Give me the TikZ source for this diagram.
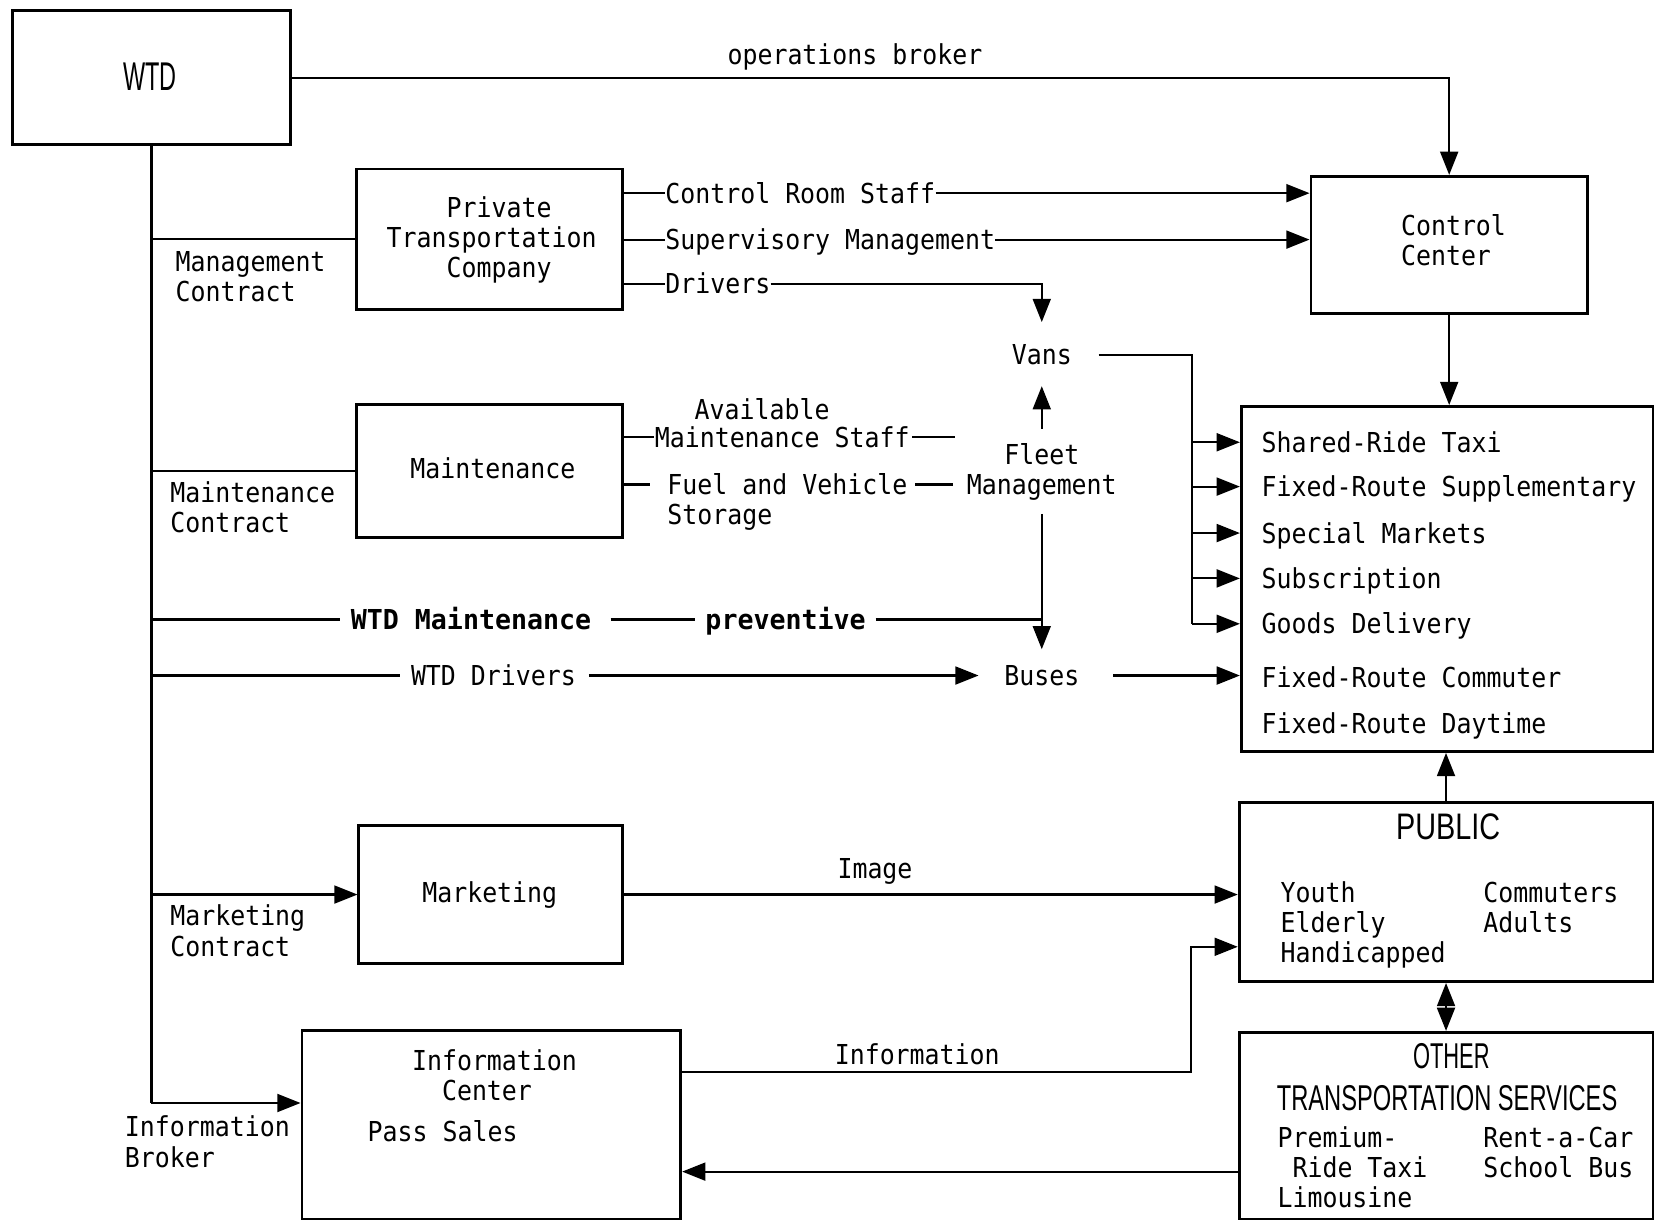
\documentclass[tikz,border=0pt]{standalone}
\usepackage{fontspec}
\usepackage{graphicx}
\usetikzlibrary{arrows.meta,calc,fit}
\newfontfamily\mono[FakeStretch=0.907]{DejaVu Sans Mono}
\newfontfamily\monob[FakeStretch=0.97]{DejaVu Sans Mono}
\newfontfamily\ttl{Liberation Sans}
\tikzset{
  box/.style={draw, line width=1.3pt, inner sep=0pt},
  lbl/.style={inner sep=0pt, font=\mono\fontsize{13}{14.3}\selectfont, text height=9.5pt, text depth=0pt},
  blbl/.style={inner sep=0pt, font=\monob\bfseries\fontsize{13}{14.3}\selectfont, text height=9.5pt, text depth=0pt},
  mlbl/.style={inner sep=0pt, font=\mono\fontsize{13}{14.3}\selectfont, align=left},
  ttlA/.style={inner sep=0pt, font=\ttl\fontsize{19}{22}\selectfont},
  ttlB/.style={inner sep=0pt, font=\ttl\fontsize{17.5}{20}\selectfont},
  ttlC/.style={inner sep=0pt, font=\ttl\fontsize{17}{20}\selectfont},
  ln/.style={line width=1pt},
  thk/.style={line width=1.7pt},
  arr/.style={line width=1pt, -{Triangle[length=11pt,width=8.5pt]}},
  darr/.style={line width=1pt, {Triangle[length=11pt,width=8.5pt]}-{Triangle[length=11pt,width=8.5pt]}},
}
\begin{document}
\begin{tikzpicture}[x=0.5pt,y=-0.5pt]
\useasboundingbox (0,0) rectangle (1568,1158);

% boxes
\node[box, fit={(12,10) (275,137)}] (wtd) {};
\node[box, fit={(1242,167) (1504,297)}] (ctrl) {};
\node[box, fit={(338,160) (590,293)}] (ptc) {};
\node[box, fit={(338,383) (590,509)}] (maint) {};
\node[box, fit={(1176,385) (1566,712)}] (serv) {};
\node[box, fit={(340,782) (590,913)}] (mkt) {};
\node[box, fit={(286,976) (645,1155)}] (info) {};
\node[box, fit={(1174,760) (1566,930)}] (pub) {};
\node[box, fit={(1174,978) (1566,1155)}] (oth) {};

% texts
\node[ttlA] (wtdt) at (142,73) {\scalebox{0.585}[1]{WTD}};
\node[lbl] (ob) at (810,52) {operations broker};
\node[mlbl, anchor=north west] (ctrlt) at (1327,203) {Control\\Center};
\node[mlbl, anchor=north west] (ptct) at (366,186) {\phantom{0000}Private\\Transportation\\\phantom{0000}Company};
\node[mlbl, anchor=north west] (mc) at (166,238) {Management\\Contract};
\node[lbl, anchor=west] (crs) at (630,183) {Control Room Staff};
\node[lbl, anchor=west] (sm) at (630,227) {Supervisory Management};
\node[lbl, anchor=west] (drv) at (630,269) {Drivers};
\node[lbl] (vans) at (987,336) {Vans};
\node[lbl] (maintt) at (467,444) {Maintenance};
\node[mlbl, anchor=north west] (mtc) at (161,456) {Maintenance\\Contract};
\node[lbl] (avail) at (722,388) {Available};
\node[lbl, anchor=west] (mstaff) at (620,414) {Maintenance Staff};
\node[lbl, anchor=west] (fuel) at (632,459) {Fuel and Vehicle};
\node[lbl, anchor=west] (stor) at (632,487) {Storage};
\coordinate (mse) at (905,414);
\coordinate (fve) at (903,459);
\node[mlbl, align=center, anchor=north] (fleet) at (987,420) {Fleet\\Management};
\node[blbl, anchor=west] (wtdm) at (332,587) {WTD Maintenance};
\node[blbl, anchor=west] (prev) at (668,587) {preventive};
\node[lbl, anchor=west] (wtdd) at (389,640) {WTD Drivers};
\node[lbl] (buses) at (987,640) {Buses};

\node[lbl, anchor=west] (s1) at (1195,419) {Shared-Ride Taxi};
\node[lbl, anchor=west] (s2) at (1195,461) {Fixed-Route Supplementary};
\node[lbl, anchor=west] (s3) at (1195,505) {Special Markets};
\node[lbl, anchor=west] (s4) at (1195,548) {Subscription};
\node[lbl, anchor=west] (s5) at (1195,591) {Goods Delivery};
\node[lbl, anchor=west] (s6) at (1195,642) {Fixed-Route Commuter};
\node[lbl, anchor=west] (s7) at (1195,685) {Fixed-Route Daytime};

\node[lbl] (mktt) at (464,846) {Marketing};
\node[mlbl, anchor=north west] (mkc) at (161,857) {Marketing\\Contract};
\node[lbl] (img) at (829,823) {Image};
\node[mlbl, anchor=north west] (infot) at (390,994) {Information\\\phantom{00}Center};
\node[lbl, anchor=west] (pass) at (348,1072) {Pass Sales};
\node[mlbl, anchor=north west] (ibk) at (118,1057) {Information\\Broker};
\node[lbl] (infl) at (869,999) {Information};

\node[ttlB] (pubt) at (1372,783) {\scalebox{0.78}[1]{PUBLIC}};
\node[mlbl, anchor=north west] (grp1) at (1213,835) {Youth\\Elderly\\Handicapped};
\node[mlbl, anchor=north west] (grp2) at (1405,835) {Commuters\\Adults};
\node[ttlC] (otht1) at (1375,1001) {\scalebox{0.61}[1]{OTHER}};
\node[ttlC] (otht2) at (1371,1040) {\scalebox{0.66}[1]{TRANSPORTATION SERVICES}};
\node[mlbl, anchor=north west] (grp3) at (1210,1067) {Premium-\\\phantom{0}Ride Taxi\\Limousine};
\node[mlbl, anchor=north west] (grp4) at (1405,1067) {Rent-a-Car\\School Bus};

% connectors
\draw[arr] (wtd.east) -| (ctrl.north);
\coordinate (ib) at (143.5,1045);
\draw[ln] (wtd.south) -- (ib);
\draw[arr] (ib) -- (ib -| info.west);
\draw[ln] (wtd.south |- ptc.west) -- (ptc.west);
\draw[ln] (wtd.south |- maint.west) -- (maint.west);
\draw[arr] (wtd.south |- mkt.west) -- (mkt.west);

\draw[ln] (ptc.east |- crs.west) -- (crs.west);
\draw[arr] (crs.east) -- (crs.east -| ctrl.west);
\draw[ln] (ptc.east |- sm.west) -- (sm.west);
\draw[arr] (sm.east) -- (sm.east -| ctrl.west);
\draw[ln] (ptc.east |- drv.west) -- (drv.west);
\draw[arr] (drv.east) -| ([yshift=10.5pt]vans.north);

\draw[ln] ([xshift=12.5pt]vans.east) -| ($(serv.west |- s5.west)+(-45,0)$);
\foreach \i in {1,...,5}
  \draw[arr] ($(serv.west |- s\i.west)+(-45,0)$) -- (serv.west |- s\i.west);

\draw[arr] ([yshift=7pt]fleet.north) -- ([yshift=-10pt]vans.south);
\draw[arr] ([yshift=-6pt]fleet.south) -- ([yshift=7.5pt]buses.north);

\draw[ln] (maint.east |- mstaff.west) -- (mstaff.west);
\draw[ln] ([xshift=1pt]mstaff.east) -- (mse);
\draw[ln] (maint.east |- fuel.west) -- ([xshift=-8pt]fuel.west);
\draw[ln] ([xshift=3.5pt]fuel.east) -- (fve);

\draw[thk] (wtd.south |- wtdm.west) -- ([xshift=-5pt]wtdm.west);
\draw[thk] ([xshift=9pt]wtdm.east) -- ([xshift=-5pt]prev.west);
\draw[thk] ([xshift=4.5pt]prev.east) -- (prev.east -| fleet.south);

\draw[ln] (wtd.south |- wtdd.west) -- ([xshift=-5pt]wtdd.west);
\draw[arr] ([xshift=6pt]wtdd.east) -- ([xshift=-12pt]buses.west);
\draw[arr] ([xshift=16pt]buses.east) -- (buses.east -| serv.west);

\draw[arr] (ctrl.south) -- (ctrl.south |- serv.north);
\draw[arr] (pub.north) -- (pub.north |- serv.south);
\draw[darr] (pub.south) -- (pub.south |- oth.north);

\draw[arr] (mkt.east) -- (mkt.east -| pub.west);
\coordinate (io) at ([yshift=-20.5pt]info.north east);
\draw[arr] (io) -| ([xshift=-22pt,yshift=-26pt]pub.west) -- ([yshift=-26pt]pub.west);
\coordinate (oi) at ([yshift=-21.75pt]oth.west);
\draw[arr] (oi) -- (oi -| info.east);
\end{tikzpicture}
\end{document}
